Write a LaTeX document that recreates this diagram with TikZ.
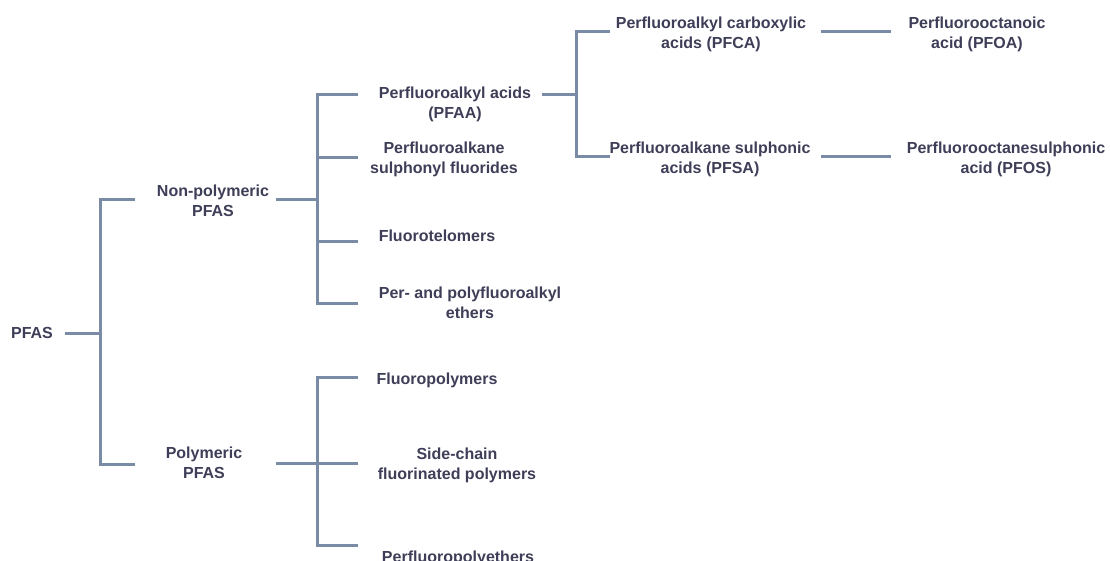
\documentclass[tikz,border=0pt]{standalone}
\usepackage{fontspec}
\setmainfont{Liberation Sans}
\definecolor{ink}{HTML}{3E3E58}
\definecolor{wire}{HTML}{7A8BA5}
\tikzset{
  lbl/.style={align=center, inner sep=0pt, text=ink,
              font=\fontsize{16}{20}\selectfont\bfseries},
  conn/.style={draw=wire, line width=3pt, line join=miter}
}
\begin{document}
\begin{tikzpicture}[x=1pt,y=-1pt]
\fill[white] (0,0) rectangle (1110,560);
\useasboundingbox (0,0) rectangle (1110,560);

% labels
\node[lbl] (pfas)    at (32,333)   {PFAS};
\node[lbl] (nonpoly) at (213,201)  {Non-polymeric\\PFAS};
\node[lbl] (poly)    at (204,463)  {Polymeric\\PFAS};
\node[lbl] (pfaa)    at (455,104)  {Perfluoroalkyl acids\\(PFAA)};
\node[lbl] (psf)     at (444,159)  {Perfluoroalkane\\sulphonyl fluorides};
\node[lbl] (ftl)     at (437,236)  {Fluorotelomers};
\node[lbl] (eth)     at (470,303)  {Per- and polyfluoroalkyl\\ethers};
\node[lbl] (fpol)    at (437,380)  {Fluoropolymers};
\node[lbl] (scfp)    at (457,465)  {Side-chain\\fluorinated polymers};
\node[lbl] (pfpe)    at (458,558)  {Perfluoropolyethers};
\node[lbl] (pfca)    at (711,34)   {Perfluoroalkyl carboxylic\\acids (PFCA)};
\node[lbl] (pfsa)    at (710,159)  {Perfluoroalkane sulphonic\\acids (PFSA)};
\node[lbl] (pfoa)    at (977,34)   {Perfluorooctanoic\\acid (PFOA)};
\node[lbl] (pfos)    at (1006,159) {Perfluorooctanesulphonic\\acid (PFOS)};

% connector end points and junctions
\coordinate (pfasR)    at (65,333);
\coordinate (j1)       at (100,333);
\coordinate (nonpolyL) at (135,199);
\coordinate (polyL)    at (135,464);
\coordinate (nonpolyR) at (276,199);
\coordinate (j2)       at (317,199);
\coordinate (pfaaL)    at (358,94);
\coordinate (psfL)     at (358,157);
\coordinate (ftlL)     at (358,241);
\coordinate (ethL)     at (358,303);
\coordinate (polyR)    at (276,463);
\coordinate (j3)       at (317,463);
\coordinate (fpolL)    at (358,377);
\coordinate (scfpL)    at (358,463);
\coordinate (pfpeL)    at (358,545);
\coordinate (pfaaR)    at (542,94);
\coordinate (j4)       at (576,94);
\coordinate (pfcaL)    at (610,31);
\coordinate (pfsaL)    at (610,156);
\coordinate (pfcaR)    at (821,31);
\coordinate (pfoaL)    at (891,31);
\coordinate (pfsaR)    at (821,156);
\coordinate (pfosL)    at (891,156);

% PFAS split
\draw[conn] (pfasR) -- (j1);
\draw[conn] (nonpolyL) -| (j1) |- (polyL);

% non-polymeric branches
\draw[conn] (nonpolyR) -- (j2);
\draw[conn] (pfaaL) -| (j2) |- (ethL);
\draw[conn] (psfL) -- (psfL -| j2);
\draw[conn] (ftlL) -- (ftlL -| j2);

% polymeric branches
\draw[conn] (polyR) -- (j3);
\draw[conn] (fpolL) -| (j3) |- (pfpeL);
\draw[conn] (scfpL) -- (j3);

% PFAA branches
\draw[conn] (pfaaR) -- (j4);
\draw[conn] (pfcaL) -| (j4) |- (pfsaL);

% single descendants
\draw[conn] (pfcaR) -- (pfoaL);
\draw[conn] (pfsaR) -- (pfosL);
\end{tikzpicture}
\end{document}
